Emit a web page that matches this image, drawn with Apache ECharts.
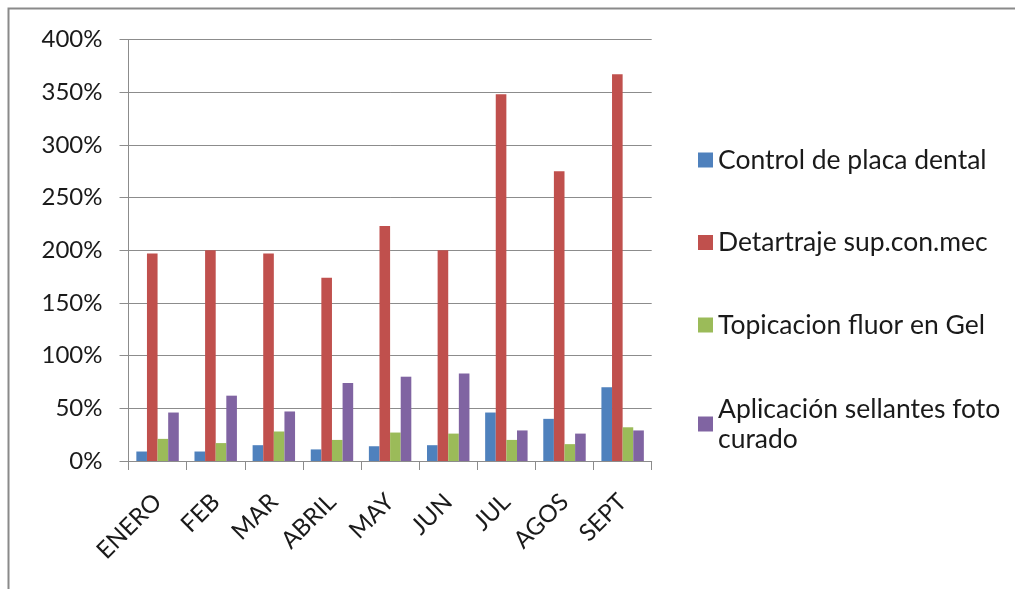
<!DOCTYPE html>
<html>
<head>
<meta charset="utf-8">
<script src="https://cdn.jsdelivr.net/npm/echarts@6/dist/echarts.min.js"></script>
<style>
  html, body { margin: 0; padding: 0; background: #fff; }
  #chart { width: 1015px; height: 589px; }
</style>
</head>
<body>
<div id="chart"></div>
<script>
// Monthly percentages per dental procedure
const months = ['ENERO', 'FEB', 'MAR', 'ABRIL', 'MAY', 'JUN', 'JUL', 'AGOS', 'SEPT'];
const controlPlaca = [9, 9, 15, 11, 14, 15, 46, 40, 70];
const detartraje = [197, 200, 197, 174, 223, 200, 348, 275, 367];
const topicacion = [21, 17, 28, 20, 27, 26, 20, 16, 32];
const sellantes = [46, 62, 47, 74, 80, 83, 29, 26, 29];
const seriesNames = [
  'Control de placa dental',
  'Detartraje sup.con.mec',
  'Topicacion fluor en Gel',
  'Aplicación sellantes foto curado'
];
const yTicks = { min: 0, max: 400, interval: 50 };

const colors = ['#4F81BD', '#C0504D', '#9BBB59', '#8064A2'];
const FONT = 'Lato';
const axisGray = '#8c8c8c';

const chart = echarts.init(document.getElementById('chart'), null, { renderer: 'canvas' });

const legendText = { fontFamily: FONT, fontSize: 26.5, color: '#1a1a1a', lineHeight: 30 };

chart.setOption({
  animation: false,
  color: colors,
  graphic: [{
    type: 'rect',
    shape: { x: 8.5, y: 8.5, width: 1200, height: 800 },
    style: { fill: 'none', stroke: '#8a8a8a', lineWidth: 2 },
    silent: true
  }],
  grid: { left: 128.5, right: 363.3, top: 39.5, bottom: 128, containLabel: false },
  legend: [{
    orient: 'vertical',
    left: 693,
    top: 140,
    itemWidth: 15,
    itemHeight: 15,
    itemGap: 52.5,
    icon: 'rect',
    data: seriesNames.slice(0, 3),
    textStyle: legendText
  }, {
    orient: 'vertical',
    left: 693,
    top: 374,
    itemWidth: 15,
    itemHeight: 15,
    icon: 'rect',
    data: [seriesNames[3]],
    formatter: () => 'Aplicación sellantes foto\ncurado',
    textStyle: Object.assign({}, legendText, { padding: [30, 0, 0, 0] })
  }],
  xAxis: {
    type: 'category',
    data: months,
    boundaryGap: true,
    axisLine: { show: true, lineStyle: { color: axisGray, width: 1 } },
    axisTick: { show: true, length: 9, lineStyle: { color: axisGray } },
    axisLabel: {
      rotate: 45,
      margin: 37,
      fontFamily: FONT,
      fontSize: 24,
      color: '#1a1a1a',
      interval: 0
    },
    splitLine: { show: false }
  },
  yAxis: {
    type: 'value',
    min: yTicks.min,
    max: yTicks.max,
    interval: yTicks.interval,
    axisLine: { show: true, lineStyle: { color: axisGray, width: 1 } },
    axisTick: { show: true, length: 9, lineStyle: { color: axisGray } },
    axisLabel: {
      margin: 26,
      fontFamily: FONT,
      fontSize: 24,
      color: '#1a1a1a',
      formatter: v => v + '%'
    },
    splitLine: { show: true, lineStyle: { color: axisGray, width: 1 } }
  },
  series: [controlPlaca, detartraje, topicacion, sellantes].map((d, i) => ({
    name: seriesNames[i],
    type: 'bar',
    data: d,
    barGap: '0%',
    barCategoryGap: '27%',
    itemStyle: { color: colors[i] }
  }))
});
</script>
</body>
</html>
